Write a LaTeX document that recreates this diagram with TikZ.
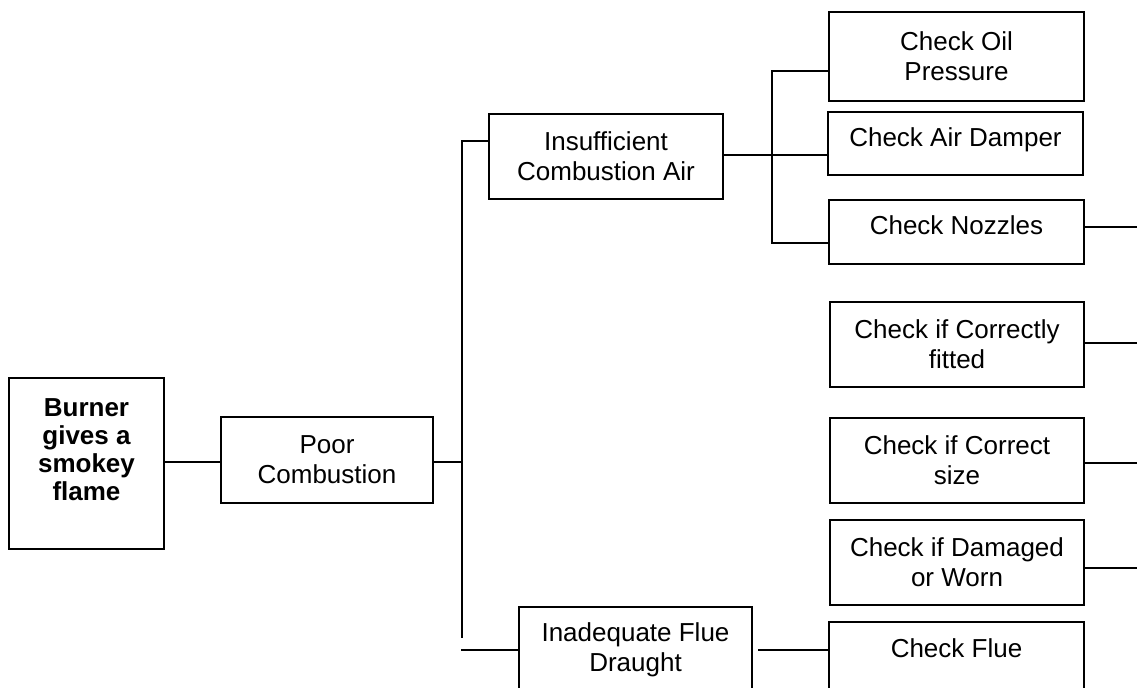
\documentclass[tikz,border=0pt]{standalone}
\usepackage{fontspec}
\setmainfont{Liberation Sans}
\usepackage{tikz}
\tikzstyle{box} = [draw, line width=0.7pt, align=center, inner sep=2pt, minimum width=127.5pt, minimum height=42.5pt, font=\fontsize{13}{15}\selectfont]
\tikzstyle{single} = [box, minimum height=32pt, text height=9.3pt, text depth=6.5pt]
\tikzstyle{link} = [line width=0.7pt]

\begin{document}
\begin{tikzpicture}[x=0.5pt, y=-0.5pt]
        \useasboundingbox (0,0) rectangle (1137,688);
        \clip (0,0) rectangle (1137,688);
        % Node positions
        \node[box, font=\fontsize{13}{14}\selectfont\bfseries, minimum width=77.5pt, minimum height=85.5pt, text depth=13.5pt] (burner) at (86.5,463.5) {Burner\\gives a\\smokey\\flame};
        \node[box, minimum width=106pt, minimum height=43pt] (poor) at (327,460) {Poor\\Combustion};
        \node[box, minimum width=117pt] (insuf) at (606,156.5) {Insufficient\\Combustion Air};
        \node[box, minimum width=116.5pt] (inadequate) at (635.5,649.5) {Inadequate Flue\\Draught};
        \node[box, minimum height=44.5pt] (oil) at (956.5,56.5) {Check Oil\\Pressure};
        \node[single, minimum height=31.5pt] (damper) at (955.5,143.5) {Check Air Damper};
        \node[single] (nozzles) at (956.5,232) {Check Nozzles};
        \node[box, minimum width=127pt] (fitted) at (957,344.5) {Check if Correctly\\fitted};
        \node[box, minimum width=127pt] (size) at (957,460.5) {Check if Correct\\size};
        \node[box, minimum width=127pt] (worn) at (957,562.5) {Check if Damaged\\or Worn};
        \node[single, minimum height=42.5pt, text depth=16.5pt] (flue) at (956.5,664.5) {Check Flue};

        % Junctions and free ends
        \coordinate (fork) at (462,462);
        \coordinate (forktop) at (462,141);
        \coordinate (forkbot) at (462,638);
        \coordinate (flueend) at (461,650);
        \coordinate (gap) at (758,650);
        \coordinate (split) at (772,155);
        \coordinate (splittop) at (772,71);
        \coordinate (splitbot) at (772,243);
        \coordinate (out1) at (1140,227);
        \coordinate (out2) at (1140,343);
        \coordinate (out3) at (1140,463);
        \coordinate (out4) at (1140,568);

        \draw[link] (burner.east |- fork) -- (poor.west |- fork);
        \draw[link] (poor.east |- fork) -- (fork);
        \draw[link] (insuf.west |- forktop) -- (forktop) -- (forkbot);
        \draw[link] (flueend) -- (inadequate.west |- flueend);
        \draw[link] (gap) -- (flue.west |- gap);
        \draw[link] (insuf.east |- split) -- (damper.west |- split);
        \draw[link] (oil.west |- splittop) -- (splittop) -- (splitbot) -- (nozzles.west |- splitbot);
        \draw[link] (nozzles.east |- out1) -- (out1);
        \draw[link] (fitted.east |- out2) -- (out2);
        \draw[link] (size.east |- out3) -- (out3);
        \draw[link] (worn.east |- out4) -- (out4);
      \end{tikzpicture}
\end{document}
